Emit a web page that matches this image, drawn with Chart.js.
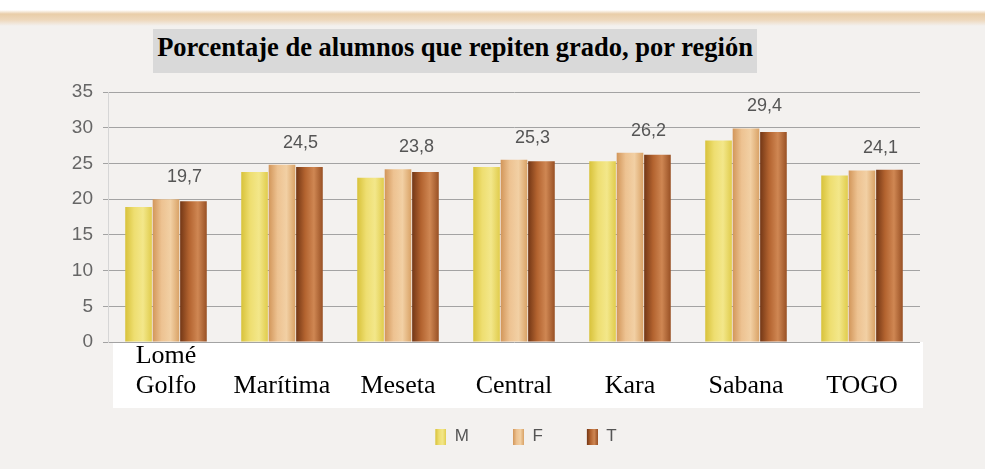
<!DOCTYPE html>
<html>
<head>
<meta charset="utf-8">
<script src="https://cdn.jsdelivr.net/npm/chart.js@4.4.0/dist/chart.umd.min.js"></script>
<style>
    html, body { margin: 0; padding: 0; }
    body { width: 985px; height: 469px; background: #f3f1ef; position: relative; overflow: hidden; }
    #scanTop {
        position: absolute; left: 0; top: 0; width: 985px; height: 26px;
        background: linear-gradient(to bottom, #ffffff 0px, #ffffff 10px, #e9cda8 14px, #eed8bc 20px, #f3f1ef 26px);
    }
    #titleBox {
        position: absolute; left: 153px; top: 29px; width: 604px; height: 44px;
        background: #d9d9d9; text-align: center;
        font-family: "Liberation Serif", "Times New Roman", serif; font-weight: bold;
        font-size: 26.5px; line-height: 30px; padding-top: 3px; box-sizing: border-box; color: #000;
        white-space: nowrap;
    }
    #wrap { position: absolute; left: 0; top: 0; width: 985px; height: 469px; }
</style>
</head>
<body>
<div id="scanTop"></div>
<div id="titleBox">Porcentaje de alumnos que repiten grado, por región</div>
<div id="wrap"><canvas id="myChart" width="985" height="469"></canvas></div>

<script>
// categories (first one is written on two lines in the picture)
const regiones = [['Lomé', 'Golfo'], ['', 'Marítima'], ['', 'Meseta'], ['', 'Central'], ['', 'Kara'], ['', 'Sabana'], ['', 'TOGO']];

// values (T values are printed on the chart)
const serieM = [18.9, 23.8, 23.0, 24.5, 25.3, 28.2, 23.3];
const serieF = [20.0, 24.8, 24.2, 25.5, 26.5, 29.9, 24.0];
const serieT = [19.7, 24.5, 23.8, 25.3, 26.2, 29.4, 24.1];
const etiquetasT = ['19,7', '24,5', '23,8', '25,3', '26,2', '29,4', '24,1'];

const Y_MAX = 35;
const Y_STEP = 5;

// shading of the round bars, left to right
const SHADE_M = ['#d8c23a', '#eede70', '#f3e78a', '#e0cc4c'];
const SHADE_F = ['#d2965a', '#edc291', '#f2d0a4', '#d9a266'];
const SHADE_T = ['#733716', '#b3632f', '#cf8753', '#985024'];

// legend swatch: small shaded box sitting at the right end of a wider
// transparent canvas, which gives the wide gaps between legend items
const SWATCH_W = 35;
function makeSwatch(shade) {
    const c = document.createElement('canvas');
    c.width = SWATCH_W;
    c.height = 16;
    const g2 = c.getContext('2d');
    const g = g2.createLinearGradient(SWATCH_W - 11, 0, SWATCH_W, 0);
    shade.forEach(function (col, k) { g.addColorStop(k / (shade.length - 1), col); });
    g2.fillStyle = g;
    g2.fillRect(SWATCH_W - 11, 0, 11, 16);
    return c;
}

// white strip behind the category names
const labelStrip = {
    id: 'labelStrip',
    beforeDraw(chart) {
        const ctx = chart.ctx;
        const area = chart.chartArea;
        ctx.save();
        ctx.fillStyle = '#ffffff';
        ctx.fillRect(area.left + 5, area.bottom, area.right - area.left - 2, 66);
        ctx.restore();
    }
};

// paint each bar with a horizontal gradient so it looks like a cylinder
const cylinder = {
    id: 'cylinder',
    beforeDatasetsDraw(chart) {
        const ctx = chart.ctx;
        chart.data.datasets.forEach(function (ds, i) {
            const meta = chart.getDatasetMeta(i);
            meta.data.forEach(function (bar) {
                const g = ctx.createLinearGradient(bar.x - bar.width / 2, 0, bar.x + bar.width / 2, 0);
                ds.shade.forEach(function (c, k) {
                    g.addColorStop(k / (ds.shade.length - 1), c);
                });
                bar.options = Object.assign({}, bar.options, { backgroundColor: g });
            });
        });
    }
};

// the printed T value above each group
const valueLabels = {
    id: 'valueLabels',
    afterDatasetsDraw(chart) {
        const ctx = chart.ctx;
        const fMeta = chart.getDatasetMeta(1);
        const tMeta = chart.getDatasetMeta(2);
        ctx.save();
        ctx.font = '18px "Liberation Sans", Arial, sans-serif';
        ctx.fillStyle = '#555555';
        ctx.textAlign = 'center';
        ctx.textBaseline = 'bottom';
        tMeta.data.forEach(function (bar, i) {
            const top = Math.min(bar.y, fMeta.data[i].y);
            ctx.fillText(etiquetasT[i], bar.x - 9, top - 13);
        });
        ctx.restore();
    }
};

const data = {
    labels: regiones,
    datasets: [
        { label: 'M', data: serieM, backgroundColor: '#e4d45a', shade: SHADE_M },
        { label: 'F', data: serieF, backgroundColor: '#e5b47c', shade: SHADE_F },
        { label: 'T', data: serieT, backgroundColor: '#a0552b', shade: SHADE_T }
    ]
};

const config = {
    type: 'bar',
    data: data,
    options: {
        responsive: false,
        animation: false,
        events: [],
        datasets: {
            bar: {
                barPercentage: 0.97,
                categoryPercentage: 0.71,
                borderWidth: 0
            }
        },
        layout: {
            padding: { left: 58, right: 65, top: 92, bottom: 14 }
        },
        scales: {
            x: {
                grid: { display: false },
                border: { display: false },
                ticks: {
                    color: '#000',
                    autoSkip: false,
                    maxRotation: 0,
                    padding: -8,
                    font: { family: '"Liberation Serif", "Times New Roman", serif', size: 26, lineHeight: 1.12 }
                },
                afterFit: function (s) { s.height = 66; }
            },
            y: {
                min: 0,
                max: Y_MAX,
                ticks: {
                    stepSize: Y_STEP,
                    color: '#666',
                    padding: 10,
                    font: { family: '"Liberation Sans", Arial, sans-serif', size: 19 }
                },
                grid: { color: '#a3a3a3', lineWidth: 1, tickLength: 5 },
                border: { display: true, color: '#d6d6d6' },
                afterFit: function (s) { s.width = 50; }
            }
        },
        plugins: {
            title: { display: false },
            tooltip: { enabled: false },
            legend: {
                display: true,
                position: 'bottom',
                fullSize: false,
                labels: {
                    color: '#555',
                    usePointStyle: true,
                    pointStyleWidth: SWATCH_W,
                    boxHeight: 16,
                    padding: 20,
                    font: { family: '"Liberation Sans", Arial, sans-serif', size: 17 },
                    generateLabels: function (chart) {
                        const items = Chart.defaults.plugins.legend.labels.generateLabels(chart);
                        items.forEach(function (it) {
                            it.pointStyle = makeSwatch(chart.data.datasets[it.datasetIndex].shade);
                        });
                        return items;
                    }
                }
            }
        }
    },
    plugins: [labelStrip, cylinder, valueLabels]
};

const chart = new Chart(document.getElementById('myChart'), config);
</script>
</body>
</html>
